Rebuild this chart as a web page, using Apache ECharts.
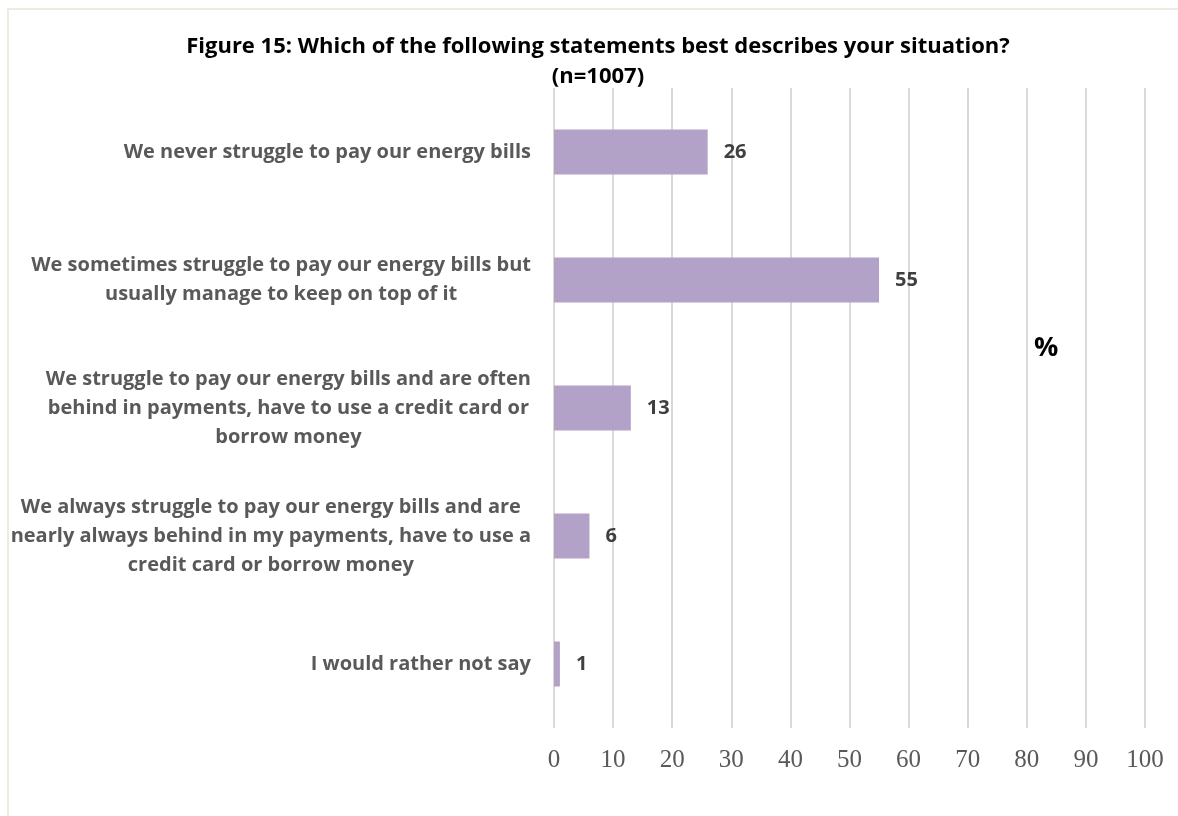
<!DOCTYPE html>
<html>
<head>
<meta charset="utf-8">
<script src="https://cdn.jsdelivr.net/npm/echarts@6/dist/echarts.min.js"></script>
<style>
  html, body { margin: 0; padding: 0; background: #fff; }
  #chart { width: 1178px; height: 816px; }
</style>
</head>
<body>
<div id="chart"></div>
<script>
// Survey answers, top to bottom
const categories = [
  ['We never struggle to pay our energy bills'],
  ['We sometimes struggle to pay our energy bills but', 'usually manage to keep on top of it'],
  ['We struggle to pay our energy bills and are often', 'behind in payments, have to use a credit card or', 'borrow money'],
  ['We always struggle to pay our energy bills and are', 'nearly always behind in my payments, have to use a', 'credit card or borrow money'],
  ['I would rather not say']
];
const percentages = [26, 55, 13, 6, 1];
const xTicks = [0, 10, 20, 30, 40, 50, 60, 70, 80, 90, 100];

const labelFont = '"Open Sans", "Noto Sans", sans-serif';
const chart = echarts.init(document.getElementById('chart'));

chart.setOption({
  animation: false,
  backgroundColor: '#ffffff',
  title: {
    text: 'Figure 15: Which of the following statements best describes your situation?\n(n=1007)',
    left: 593,
    textAlign: 'center',
    top: 27,
    textStyle: {
      fontFamily: labelFont,
      fontWeight: 'bold',
      fontSize: 22,
      lineHeight: 30,
      color: '#000000'
    }
  },
  graphic: [
    {
      type: 'rect',
      shape: { x: 8, y: 9, width: 1200, height: 830 },
      style: { fill: 'none', stroke: '#eeece1', lineWidth: 2 },
      silent: true
    },
    {
      type: 'text',
      left: 1034,
      top: 335,
      style: {
        text: '%',
        fontFamily: labelFont,
        fontSize: 27,
        fontWeight: 'bold',
        fill: '#000000'
      }
    }
  ],
  grid: { left: 554, right: 33, top: 88, bottom: 88, containLabel: false },
  xAxis: {
    type: 'value',
    min: xTicks[0],
    max: xTicks[xTicks.length - 1],
    interval: 10,
    axisLine: { show: false },
    axisTick: { show: false },
    splitLine: { lineStyle: { color: '#d9d9d9', width: 2 } },
    axisLabel: {
      margin: 20,
      fontFamily: '"Liberation Serif", "DejaVu Serif", serif',
      fontSize: 25,
      color: '#595959'
    }
  },
  yAxis: {
    type: 'category',
    inverse: true,
    data: categories.map(c => c.join('\n')),
    axisLine: { show: false },
    axisTick: { show: false },
    splitLine: { show: false },
    axisLabel: {
      margin: 23,
      align: 'right',
      formatter: function (v) {
        return v.split('\n').map(l => '{a|' + l + '}').join('\n');
      },
      rich: {
        a: {
          align: 'center',
          fontFamily: labelFont,
          fontWeight: 'bold',
          fontSize: 20,
          lineHeight: 29,
          color: '#595959'
        }
      }
    }
  },
  series: [{
    type: 'bar',
    data: percentages,
    barWidth: 45,
    itemStyle: { color: '#b3a2c7' },
    label: {
      show: true,
      position: 'right',
      distance: 16,
      fontFamily: labelFont,
      fontWeight: 'bold',
      fontSize: 20,
      color: '#404040'
    }
  }]
});
</script>
</body>
</html>
